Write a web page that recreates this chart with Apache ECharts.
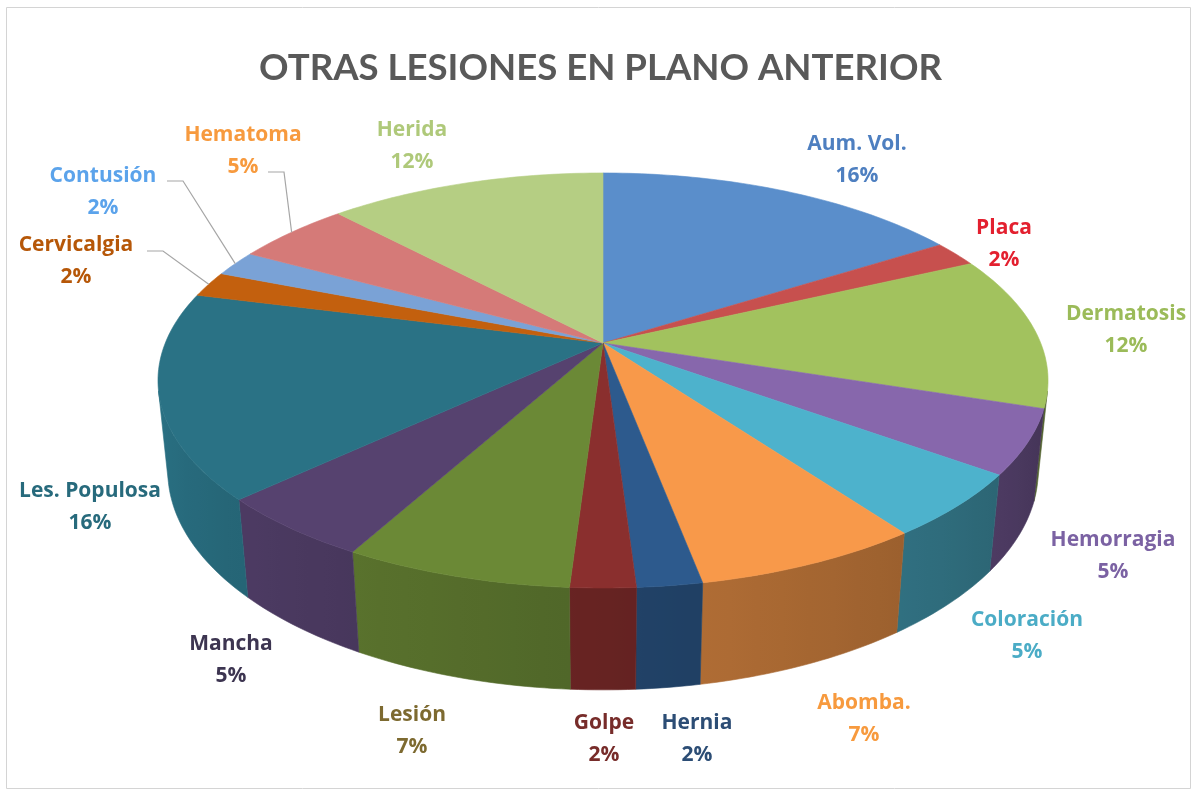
<!DOCTYPE html>
<html>
<head>
<meta charset="utf-8">
<script src="https://cdn.jsdelivr.net/npm/echarts@6/dist/echarts.min.js"></script>
<style>
  html, body { margin: 0; padding: 0; background: #ffffff; }
  #chart { width: 1201px; height: 796px; }
</style>
</head>
<body>
<div id="chart"></div>
<script>
// Slices, clockwise from 12 o'clock
const categories = ['Aum. Vol.', 'Placa', 'Dermatosis', 'Hemorragia', 'Coloración', 'Abomba.',
  'Hernia', 'Golpe', 'Lesión', 'Mancha', 'Les. Populosa', 'Cervicalgia', 'Contusión', 'Hematoma', 'Herida'];
const percents = [16, 2, 12, 5, 5, 7, 2, 2, 7, 5, 16, 2, 2, 5, 12];

// Face colours of each slice and colours of their labels
const topColors = ['#5A8ECB', '#C7504E', '#A2C25E', '#8767AC', '#4DB2CC', '#F8994A', '#2D5A8D',
  '#8A2F2E', '#6B8936', '#56426F', '#2A7285', '#C3600E', '#7AA2D6', '#D57A78', '#B5CE83'];
const labelColors = ['#4E7FC0', '#E3202F', '#9BBB59', '#7B62A3', '#4BACC6', '#F79A3E', '#2C4D75',
  '#772C2A', '#7D6A30', '#3D3551', '#276A7C', '#B65708', '#5BA3EB', '#F79A3E', '#AFC97A'];

// Label layout: centre of the name line; leader lines start at the given point (null = none)
const labelPos = [[857, 144], [1004, 228], [1126, 314], [1113, 540], [1027, 620], [864, 703],
  [697, 723], [604, 723], [412, 715], [231, 644], [90, 491], [76, 245], [103, 176], [243, 135], [412, 130]];
const leaderFrom = [null, null, null, null, null, null, null, null, null, null, null,
  [147, 251], [167, 181], [268, 172], null];

// Camera for the tilted disc
const view = { cx: 603, cy: 343, scale: 437.7, tilt: 27.3 * Math.PI / 180, persp: 0.2033, depth: 0.234 };
const sinT = Math.sin(view.tilt), cosT = Math.cos(view.tilt);

function project(theta, y) {
  const x3 = Math.sin(theta), z3 = Math.cos(theta);
  const d = 1 + view.persp * (z3 * cosT - y * sinT);
  return [view.cx + view.scale * x3 / d, view.cy - view.scale * (y * cosT + z3 * sinT) / d];
}

const total = percents.reduce((a, b) => a + b, 0);
const startAngle = [];
let acc = 0;
percents.forEach(v => { startAngle.push(acc / total * 2 * Math.PI); acc += v; });
const endAngle = startAngle.map((s, i) => s + percents[i] / total * 2 * Math.PI);

// Outer wall is facing the camera between these angles
const visA = Math.acos(-view.persp / cosT);
const visB = 2 * Math.PI - visA;

function hexToRgb(h) {
  return [parseInt(h.slice(1, 3), 16), parseInt(h.slice(3, 5), 16), parseInt(h.slice(5, 7), 16)];
}
function shade(hex, f) {
  const c = hexToRgb(hex).map(v => Math.max(0, Math.min(255, Math.round(v * f))));
  return 'rgb(' + c.join(',') + ')';
}
// Light comes from the left: right-hand walls are darkest
function wallLight(theta) {
  return 0.5 + 0.48 * (theta - visA) / (visB - visA);
}

function arcPoints(a0, a1, y) {
  const n = Math.max(2, Math.ceil((a1 - a0) / (Math.PI / 180)));
  const pts = [];
  for (let j = 0; j <= n; j++) pts.push(project(a0 + (a1 - a0) * j / n, y));
  return pts;
}

function renderWall(params, api) {
  const i = params.dataIndex;
  api.value(0);
  const lo = Math.max(startAngle[i], visA), hi = Math.min(endAngle[i], visB);
  if (hi <= lo) return { type: 'group', children: [] };
  const upper = arcPoints(lo, hi, 0);
  const lower = arcPoints(lo, hi, -view.depth).reverse();
  const pts = upper.concat(lower);
  const xs = pts.map(p => p[0]);
  const xmin = Math.min.apply(null, xs), xmax = Math.max.apply(null, xs);
  const stops = [];
  const m = 8;
  for (let j = 0; j <= m; j++) {
    const t = lo + (hi - lo) * j / m;
    const x = project(t, -view.depth / 2)[0];
    stops.push({ offset: Math.max(0, Math.min(1, (x - xmin) / Math.max(1, xmax - xmin))), color: shade(topColors[i], wallLight(t)) });
  }
  stops.sort((a, b) => a.offset - b.offset);
  const fill = new echarts.graphic.LinearGradient(xmin, 0, xmax, 0, stops, true);
  return {
    type: 'polygon',
    shape: { points: pts },
    style: { fill: fill, stroke: fill, lineWidth: 0.6 }
  };
}

function renderTop(params, api) {
  const i = params.dataIndex;
  const value = api.value(0);
  const pts = [[view.cx, view.cy]].concat(arcPoints(startAngle[i], endAngle[i], 0));
  const children = [{
    type: 'polygon',
    shape: { points: pts },
    style: { fill: topColors[i], stroke: topColors[i], lineWidth: 0.6 }
  }];
  const lp = labelPos[i];
  children.push({
    type: 'text',
    z2: 10,
    style: {
      text: categories[i] + '\n' + value + '%',
      x: lp[0], y: lp[1] + 16,
      fill: labelColors[i],
      font: 'bold 21px "Open Sans", Lato, sans-serif',
      align: 'center', verticalAlign: 'middle', lineHeight: 32
    }
  });
  if (leaderFrom[i]) {
    const mid = (startAngle[i] + endAngle[i]) / 2;
    const rim = project(mid, 0);
    const a = leaderFrom[i];
    children.push({
      type: 'polyline',
      z2: 10,
      shape: { points: [a, [a[0] + 16, a[1]], rim] },
      style: { stroke: '#A6A6A6', lineWidth: 1.2, fill: null }
    });
  }
  return { type: 'group', children: children };
}

const chart = echarts.init(document.getElementById('chart'), null, { renderer: 'canvas' });
chart.setOption({
  animation: false,
  backgroundColor: '#ffffff',
  title: {
    text: 'OTRAS LESIONES EN PLANO ANTERIOR',
    left: 'center',
    top: 45,
    textStyle: { fontFamily: 'Lato, "Open Sans", sans-serif', fontWeight: 'bold', fontSize: 36.6, color: '#595959' }
  },
  graphic: [{
    type: 'rect',
    shape: { x: 6.5, y: 7.5, width: 1184, height: 781 },
    style: { fill: null, stroke: '#D4D4D4', lineWidth: 1 },
    silent: true
  }],
  series: [
    { type: 'custom', name: 'wall', coordinateSystem: 'none', data: percents, renderItem: renderWall, silent: true },
    { type: 'custom', name: 'top', coordinateSystem: 'none', data: percents, renderItem: renderTop, silent: true }
  ]
});
</script>
</body>
</html>
